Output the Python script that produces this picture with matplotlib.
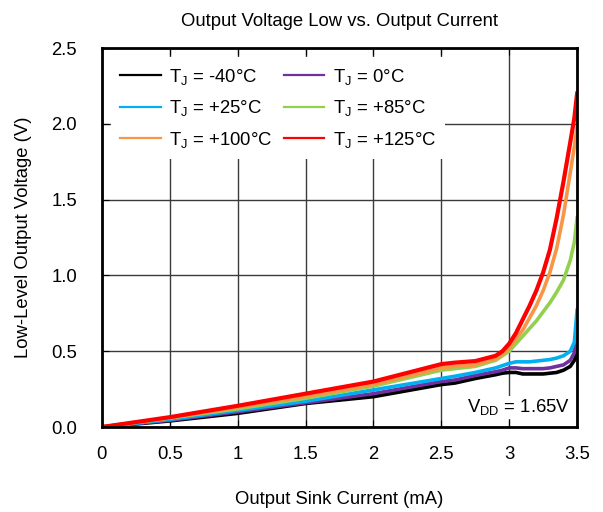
import matplotlib
matplotlib.use("Agg")
from matplotlib import pyplot as plt

plt.rcParams['font.family'] = ['Liberation Sans', 'DejaVu Sans']
plt.rcParams['mathtext.fontset'] = 'custom'
plt.rcParams['mathtext.rm'] = 'Liberation Sans'

current = [0, 0.5, 1, 1.5, 2, 2.5, 2.6, 2.75, 2.9, 2.95, 3.0, 3.05, 3.1, 3.15,
           3.2, 3.25, 3.3, 3.35, 3.4, 3.45, 3.48, 3.5]

v_m40 = [0, 0.04, 0.09, 0.155, 0.20, 0.28, 0.29, 0.32, 0.345, 0.355, 0.36, 0.36, 0.35, 0.35,
         0.35, 0.35, 0.355, 0.36, 0.375, 0.40, 0.44, 0.49]
v_0 = [0, 0.045, 0.10, 0.16, 0.22, 0.30, 0.31, 0.34, 0.365, 0.375, 0.39, 0.39, 0.385, 0.385,
       0.385, 0.385, 0.39, 0.40, 0.41, 0.44, 0.49, 0.62]
v_25 = [0, 0.05, 0.11, 0.17, 0.245, 0.32, 0.335, 0.36, 0.39, 0.405, 0.42, 0.43, 0.43, 0.43,
        0.435, 0.44, 0.445, 0.455, 0.47, 0.50, 0.56, 0.77]
v_85 = [0, 0.06, 0.12, 0.19, 0.27, 0.375, 0.385, 0.40, 0.44, 0.47, 0.50, 0.55, 0.60, 0.65,
        0.70, 0.76, 0.82, 0.89, 0.97, 1.10, 1.22, 1.38]
v_100 = [0, 0.06, 0.13, 0.20, 0.28, 0.39, 0.40, 0.41, 0.45, 0.48, 0.52, 0.58, 0.64, 0.72,
         0.80, 0.90, 1.02, 1.18, 1.40, 1.68, 1.85, 1.98]
v_125 = [0, 0.065, 0.14, 0.22, 0.30, 0.415, 0.425, 0.435, 0.47, 0.50, 0.55, 0.62, 0.71, 0.80,
         0.90, 1.02, 1.17, 1.38, 1.62, 1.88, 2.04, 2.2]

labels = [r'T$_\mathrm{J}$ = -40°C', r'T$_\mathrm{J}$ = 0°C', r'T$_\mathrm{J}$ = +25°C',
          r'T$_\mathrm{J}$ = +85°C', r'T$_\mathrm{J}$ = +100°C', r'T$_\mathrm{J}$ = +125°C']
colors = ['#000000', '#7030A0', '#00B0F0', '#92D050', '#F79646', '#FF0000']
series = [v_m40, v_0, v_25, v_85, v_100, v_125]

fig = plt.figure(figsize=(6.03, 5.12), dpi=100)
ax = fig.add_axes([0.169, 0.166, 0.788, 0.740])

lines = []
for vals, lab, col in zip(series, labels, colors):
    lw = 3.0 if col == '#FF0000' else 2.6
    ln, = ax.plot(current, vals, color=col, lw=lw, label=lab)
    lines.append(ln)

ax.set_xlim(0, 3.5)
ax.set_ylim(0, 2.5)
ax.set_xticks([0, 0.5, 1, 1.5, 2, 2.5, 3, 3.5])
ax.set_xticklabels(['0', '0.5', '1', '1.5', '2', '2.5', '3', '3.5'])
ax.set_yticks([0, 0.5, 1.0, 1.5, 2.0, 2.5])
ax.set_yticklabels(['0.0', '0.5', '1.0', '1.5', '2.0', '2.5'])
ax.grid(True, color='#3a3a3a', lw=1)
ax.tick_params(direction='in', length=5, labelsize=13.3, top=True)
ax.tick_params(axis='x', pad=14)
ax.tick_params(axis='y', pad=18)
for s in ax.spines.values():
    s.set_linewidth(2)

ax.set_title('Output Voltage Low vs. Output Current', fontsize=13.3, pad=16)
ax.set_xlabel('Output Sink Current (mA)', fontsize=13.3, labelpad=20)
ax.set_ylabel('Low-Level Output Voltage (V)', fontsize=13.3, labelpad=14)

ax.text(3.45, 0.13, r'V$_\mathrm{DD}$ = 1.65V', fontsize=13.3, ha='right', va='center',
        bbox=dict(facecolor='white', edgecolor='none', pad=1))

# row-wise legend order
order = [0, 2, 4, 1, 3, 5]
leg = ax.legend([lines[i] for i in order], [labels[i] for i in order],
                ncol=2, loc='upper left', frameon=True, fontsize=13.3,
                facecolor='white', edgecolor='none', framealpha=1, fancybox=False,
                handlelength=2.2, handletextpad=0.45, columnspacing=0.6,
                labelspacing=0.62, borderpad=0.5, borderaxespad=0.5,
                bbox_to_anchor=(0.0, 1.0))
for line in leg.get_lines():
    line.set_linewidth(1.6)

plt.savefig('out.png', dpi=100)
